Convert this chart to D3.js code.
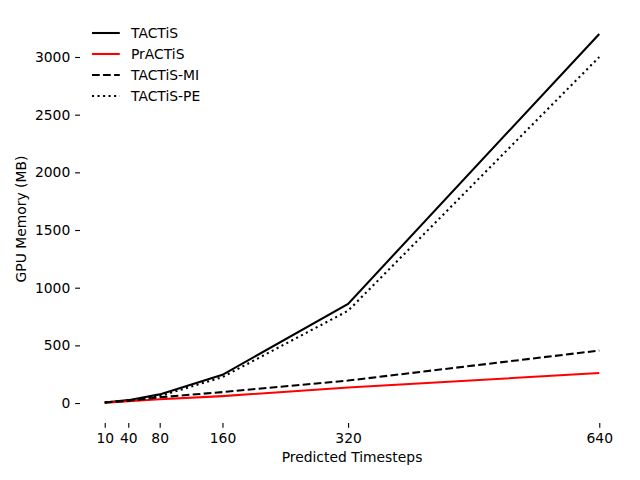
<!DOCTYPE html>
<html>
<head>
<meta charset="utf-8">
<script src="https://cdn.jsdelivr.net/npm/d3@7"></script>
<style>
body { margin: 0; background: #fff; }
svg { font-family: "DejaVu Sans", sans-serif; }
</style>
</head>
<body>
<svg width="640" height="480"></svg>
<script>
var timesteps = [10, 40, 80, 160, 320, 640];
var tactis    = [5, 25, 75, 245, 860, 3200];
var practis   = [3, 15, 33, 60, 135, 260];
var tactisMI  = [4, 20, 50, 95, 195, 455];
var tactisPE  = [5, 22, 60, 225, 800, 3000];
var yTicks    = [0, 500, 1000, 1500, 2000, 2500, 3000];

// 1pt = 100/72 px (figure drawn at 100 dpi)
var pt = 100 / 72;

var series = [
	{ name:"TACTiS",    values:tactis,   color:"#000", dash:null },
	{ name:"PrACTiS",   values:practis,  color:"#f00", dash:null },
	{ name:"TACTiS-MI", values:tactisMI, color:"#000", dash:(5.55*pt)+","+(2.4*pt) },
	{ name:"TACTiS-PE", values:tactisPE, color:"#000", dash:(1.5*pt)+","+(2.475*pt) }
];

var plotL = 80, plotR = 624, plotT = 15, plotB = 423;
var fs = 10 * pt;

var x = d3.scaleLinear().domain([-21.5, 671.5]).range([plotL, plotR]);
var y = d3.scaleLinear().domain([-173, 3364]).range([plotB, plotT]);

var svg = d3.select("svg");

var xAxis = svg.append("g")
	.attr("transform", "translate(0," + plotB + ")")
	.call(d3.axisBottom(x).tickValues(timesteps).tickSize(3.5*pt).tickPadding(3.5*pt));
var yAxis = svg.append("g")
	.attr("transform", "translate(" + plotL + ",0)")
	.call(d3.axisLeft(y).tickValues(yTicks).tickFormat(d3.format("d")).tickSize(3.5*pt).tickPadding(3.5*pt));

[xAxis, yAxis].forEach(function(a){
	a.select(".domain").remove();
	a.selectAll("text").attr("font-size", fs).attr("font-family", "DejaVu Sans").attr("fill", "#000");
	a.selectAll("line").attr("stroke", "#000").attr("stroke-width", 0.8*pt);
});

var line = d3.line()
	.x(function(d, i){ return x(timesteps[i]); })
	.y(function(d){ return y(d); });

svg.selectAll(".series").data(series)
	.enter().append("path")
	.attr("fill", "none")
	.attr("stroke", function(d){ return d.color; })
	.attr("stroke-width", 1.5*pt)
	.attr("stroke-dasharray", function(d){ return d.dash; })
	.attr("d", function(d){ return line(d.values); });

svg.append("text")
	.attr("x", (plotL + plotR) / 2)
	.attr("y", 462)
	.attr("text-anchor", "middle")
	.attr("font-size", fs)
	.text("Predicted Timesteps");

svg.append("text")
	.attr("transform", "translate(26," + (plotT + plotB) / 2 + ") rotate(-90)")
	.attr("text-anchor", "middle")
	.attr("font-size", fs)
	.text("GPU Memory (MB)");

var legend = svg.append("g").attr("transform", "translate(92,33)");
var item = legend.selectAll("g").data(series)
	.enter().append("g")
	.attr("transform", function(d, i){ return "translate(0," + (i * 21) + ")"; });
item.append("line")
	.attr("x1", 0).attr("x2", 20*pt)
	.attr("stroke", function(d){ return d.color; })
	.attr("stroke-width", 1.5*pt)
	.attr("stroke-dasharray", function(d){ return d.dash; });
item.append("text")
	.attr("x", 39)
	.attr("dy", "0.35em")
	.attr("font-size", fs)
	.text(function(d){ return d.name; });
</script>
</body>
</html>
